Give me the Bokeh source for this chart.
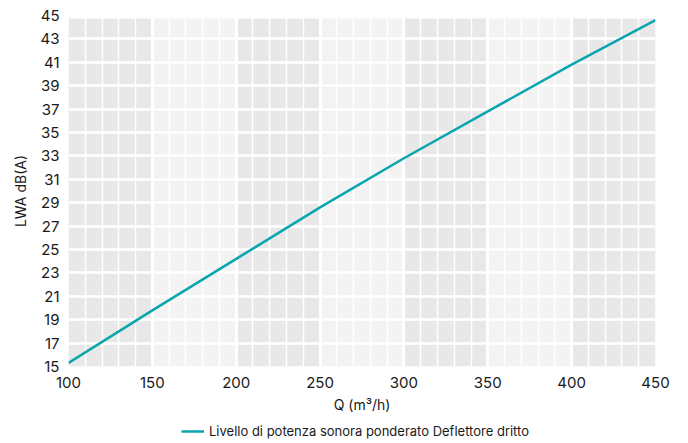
from bokeh.plotting import figure
from bokeh.layouts import column
from bokeh.models import FixedTicker, Legend, LegendItem, Range1d
from bokeh.embed import file_html
from bokeh.resources import INLINE

# Data
q_values = [100, 150, 200, 250, 300, 350, 400, 450]
lwa_values = [15.3, 19.8, 24.2, 28.6, 32.8, 36.8, 40.8, 44.6]
series_name = "Livello di potenza sonora ponderato Deflettore dritto"

x_ticks = [100, 150, 200, 250, 300, 350, 400, 450]
x_minor_ticks = list(range(100, 451, 10))
y_ticks = list(range(15, 46, 2))
band_starts = [100, 150, 200, 250, 300, 350, 400]
band_colors = ["#e8e8e8", "#f3f3f3", "#e8e8e8", "#f3f3f3", "#e8e8e8", "#f3f3f3", "#e8e8e8"]
band_width = 50
band_bottom = 15
band_top = 44.75

FONT = "Inter"
LINE_COLOR = "#0aa5ae"

p = figure(frame_width=587, frame_height=351,
           x_range=Range1d(100, 450), y_range=Range1d(15, 45),
           output_backend="svg", toolbar_location=None,
           min_border_left=68, min_border_right=17,
           min_border_top=15, min_border_bottom=54,
           background_fill_color="white", border_fill_color="white",
           outline_line_color=None)

# alternating background bands
p.quad(left=band_starts,
       right=[s + band_width for s in band_starts],
       bottom=band_bottom, top=band_top, fill_color=band_colors,
       line_color=None, level="underlay")

# grids
p.xgrid.ticker = FixedTicker(ticks=x_ticks, minor_ticks=x_minor_ticks)
p.xgrid.grid_line_color = "white"
p.xgrid.grid_line_width = 3
p.xgrid.minor_grid_line_color = "white"
p.xgrid.minor_grid_line_width = 1.5
p.xgrid.level = "underlay"
p.ygrid.ticker = FixedTicker(ticks=y_ticks)
p.ygrid.grid_line_color = "white"
p.ygrid.grid_line_width = 2.5
p.ygrid.level = "underlay"

p.line(q_values, lwa_values, line_color=LINE_COLOR, line_width=2.5)

for ax in (p.xaxis[0], p.yaxis[0]):
    ax.axis_line_color = None
    ax.major_tick_line_color = None
    ax.minor_tick_line_color = None
    ax.major_tick_out = 0
    ax.major_tick_in = 0
    ax.minor_tick_out = 0
    ax.minor_tick_in = 0
    ax.major_label_text_font = FONT
    ax.major_label_text_font_size = "15px"
    ax.major_label_text_color = "#1a1a1a"
    ax.axis_label_text_font = FONT
    ax.axis_label_text_font_size = "14px"
    ax.axis_label_text_font_style = "normal"
    ax.axis_label_text_color = "#1a1a1a"

p.xaxis.ticker = FixedTicker(ticks=x_ticks)
p.yaxis.ticker = FixedTicker(ticks=y_ticks)
p.xaxis.axis_label = "Q (m³/h)"
p.yaxis.axis_label = "LWA dB(A)"
p.xaxis.major_label_standoff = 10
p.yaxis.major_label_standoff = 9
p.xaxis.axis_label_standoff = 5
p.yaxis.axis_label_standoff = 9

# legend strip below the chart (the series is drawn outside its visible range,
# only its legend entry shows)
p2 = figure(width=672, height=20, x_range=Range1d(0, 1), y_range=Range1d(0, 1),
            output_backend="svg", toolbar_location=None,
            x_axis_location=None, y_axis_location=None,
            min_border=0, min_border_left=0, min_border_right=0,
            min_border_top=0, min_border_bottom=0,
            background_fill_color="white", border_fill_color="white",
            outline_line_color=None)
p2.xgrid.visible = False
p2.ygrid.visible = False
r2 = p2.line(q_values, lwa_values, line_color=LINE_COLOR, line_width=2.5)

legend = Legend(items=[LegendItem(label=series_name, renderers=[r2])],
                location=(113, 1), orientation="horizontal",
                border_line_color=None, background_fill_alpha=0,
                label_text_font=FONT, label_text_font_size="13px",
                label_text_color="#1a1a1a",
                glyph_width=23, glyph_height=14, label_standoff=5,
                label_height=14,
                padding=0, margin=0, spacing=0)
p2.add_layout(legend, "center")

layout = column(p, p2, spacing=0)
open("out.html", "w").write(file_html(layout, INLINE))
